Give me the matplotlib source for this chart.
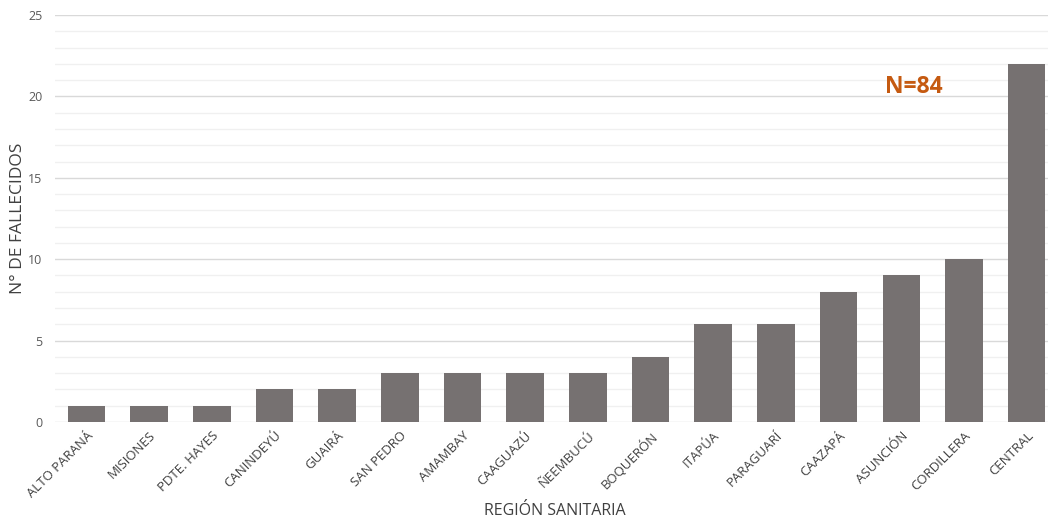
import matplotlib
matplotlib.use("Agg")
import matplotlib.pyplot as plt
from matplotlib.ticker import MultipleLocator

plt.rcParams['font.family'] = ['Open Sans', 'DejaVu Sans']

regiones = ["ALTO PARANÁ", "MISIONES", "PDTE. HAYES", "CANINDEYÚ", "GUAIRÁ",
            "SAN PEDRO", "AMAMBAY", "CAAGUAZÚ", "ÑEEMBUCÚ", "BOQUERÓN",
            "ITAPÚA", "PARAGUARÍ", "CAAZAPÁ", "ASUNCIÓN", "CORDILLERA", "CENTRAL"]
fallecidos = [1, 1, 1, 2, 2, 3, 3, 3, 3, 4, 6, 6, 8, 9, 10, 22]

fig = plt.figure(figsize=(10.48, 5.23), dpi=100)
ax = fig.add_axes([55 / 1048, 101 / 523, 1 - 55 / 1048, 407 / 523])

x = range(len(regiones))
ax.bar(x, fallecidos, width=0.6, color="#767171", zorder=3)

ax.set_ylim(0, 25)
ax.set_xlim(-0.5, 15.34)
ax.yaxis.set_major_locator(MultipleLocator(5))
ax.yaxis.set_minor_locator(MultipleLocator(1))
ax.grid(axis="y", which="major", color="#d9d9d9", linewidth=1.0, zorder=0)
ax.grid(axis="y", which="minor", color="#f0f0f0", linewidth=1.0, zorder=0)
for s in ax.spines.values():
    s.set_visible(False)
ax.tick_params(axis="both", which="both", length=0, colors="#595959", labelsize=9)
ax.tick_params(axis="y", pad=9)
ax.tick_params(axis="x", pad=5)

ax.set_xticks(list(x))
ax.set_xticklabels(regiones, rotation=45, ha="right", rotation_mode="anchor",
                   fontsize=9.5, color="#404040")

ax.set_ylabel("N° DE FALLECIDOS", fontsize=12.5, color="#404040", va="center")
ax.yaxis.set_label_coords(-0.037, 0.5)
ax.set_xlabel("REGIÓN SANITARIA", fontsize=11.5, color="#404040", va="center")
ax.xaxis.set_label_coords(0.503, -0.219)

ax.text(13.2, 20.6, "N=84", fontsize=16.5, fontweight="bold", color="#C55A11",
        ha="center", va="center")

fig.savefig("out.png", dpi=100)
